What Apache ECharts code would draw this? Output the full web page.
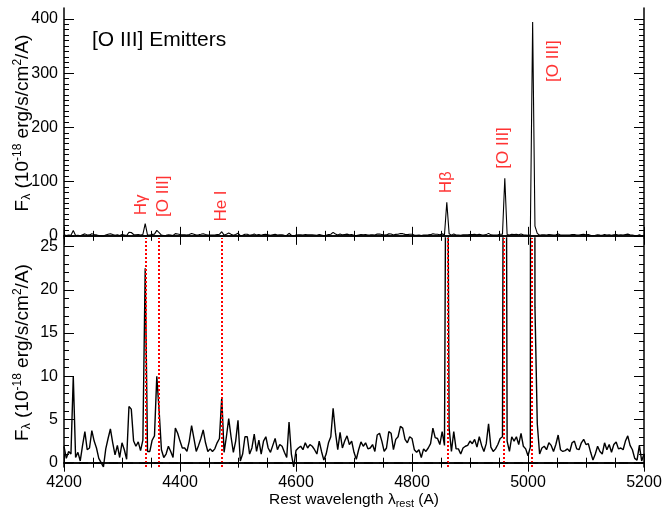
<!DOCTYPE html>
<html>
<head>
<meta charset="utf-8">
<script src="https://cdn.jsdelivr.net/npm/echarts@6/dist/echarts.min.js"></script>
<style>
  html, body { margin: 0; padding: 0; background: #fff; }
  #chart { width: 662px; height: 508px; }
</style>
</head>
<body>
<div id="chart"></div>
<script>
// spectrum sampled every 4 A starting at 4200 A (flux in 1e-18 erg/s/cm2/A)
var waveStart = 4200;
var waveStep = 4;
var flux = [
    1.9, 0.5, 1.3, 1.0, 10.0, 0.6, 1.2, 0.2, 2.0, 3.6,
    1.5, 1.7, 3.7, 2.5, 1.7, 0.5, 0.0, -0.5, 1.6, 2.8,
    3.9, 2.3, 0.9, 2.0, 0.6, 2.3, 1.5, 0.4, 6.5, 6.2,
    2.5, 1.9, 2.4, 1.4, 2.6, 22.5, 1.3, 1.3, 2.6, 3.1,
    10.0, 6.0, 1.5, 0.6, 1.0, 1.9, 1.3, 0.6, 4.0, 3.4,
    2.5, 1.7, 1.7, 1.3, 2.5, 4.3, 2.8, 1.3, 2.0, 2.8,
    3.8, 2.3, 1.3, 1.6, 1.3, 1.6, 2.3, 2.8, 7.6, 1.2,
    3.0, 5.1, 3.0, 1.2, 2.5, 4.9, 0.2, 1.0, 3.0, 3.0,
    1.0, 1.7, 3.3, 1.3, 2.6, 1.0, 2.5, 3.0, 1.7, 1.2,
    2.0, 2.8, 1.5, 2.1, 1.9, 1.2, 0.6, 4.7, 1.0, -0.5,
    1.4, 1.7, 1.9, 1.5, 2.3, 1.7, 2.1, 1.9, 1.5, 1.0,
    2.5, 1.3, 0.3, 1.0, 2.3, 3.0, 6.3, 3.5, 1.5, 3.5,
    1.7, 2.5, 3.1, 2.1, 2.5, 1.2, 0.4, 1.5, 2.4, 1.9,
    2.3, 1.6, 1.7, 2.1, 1.3, 3.2, 3.4, 2.5, 1.3, 1.7,
    3.6, 3.4, 1.5, 2.7, 3.0, 4.2, 4.0, 2.7, 2.3, 3.0,
    2.8, 1.5, 1.2, 1.5, 0.6, 1.6, 1.3, 1.7, 2.2, 4.0,
    2.9, 2.8, 2.1, 3.6, 2.0, 62, 4.0, 1.3, 3.6, 1.6,
    1.6, 1.0, 1.7, 1.9, 2.0, 2.5, 2.2, 2.7, 1.8, 3.0,
    2.0, 1.3, 2.2, 4.5, 1.8, 1.3, 1.6, 2.1, 2.8, 3.0,
    106, 2.5, 1.3, 3.0, 2.5, 3.0, 2.1, 3.4, 1.9, 1.6,
    0.8, 1.8, 394, 18, 4.5, 1.0, 1.7, 1.9, 1.5, 2.3,
    2.0, 1.3, 2.1, 3.2, 1.5, 1.3, 1.4, 1.6, 1.3, 2.3,
    2.5, 1.6, 1.5, 2.3, 2.7, 2.1, 2.2, 1.2, 0.3, 1.0,
    1.9, 1.3, 1.0, 2.3, 1.5, 2.1, 1.2, 2.1, 2.4, 1.6,
    1.7, 1.5, 2.5, 3.1, 2.0, 1.5, 0.5, 0.3, 2.0, 0.2,
    1.0
];

// emission lines
var lineNames = ['Hγ', '[O III]', 'He I', 'Hβ', '[O III]', '[O III]'];
var lineWaves = [4340.5, 4363.2, 4471.5, 4861.3, 4958.9, 5006.8];
// where each label sits in the top panel (wavelength, flux)
var labelAt = [[4334, 57], [4371, 73], [4471, 55], [4860, 99], [4957, 162], [5043, 322]];

var xTicks = [4200, 4400, 4600, 4800, 5000, 5200];
var topYTicks = [0, 100, 200, 300, 400];
var bottomYTicks = [0, 5, 10, 15, 20, 25];

var FONT = 'Liberation Sans, Arial, Helvetica, sans-serif';

function steps(from, to, step) {
    var out = [];
    for (var v = from; v <= to + 1e-9; v += step) out.push(Math.round(v * 100) / 100);
    return out;
}
function plain(v) { return String(v); }

var spectrum = flux.map(function (f, i) { return [waveStart + i * waveStep, f]; });

var grids = [], xAxes = [], yAxes = [];
var nameRich = {
    sub: { fontSize: 11, fontFamily: FONT, color: '#000', padding: [8, 0, 0, 0] },
    sup: { fontSize: 11, fontFamily: FONT, color: '#000', padding: [0, 0, 9, 0] }
};

// each panel = a major-tick grid (frame + labels) and a minor-tick grid on the same rect
function addPanel(rect, yMin, yMax, yMajor, yMinorStep, xLabels) {
    [true, false].forEach(function (major) {
        var gi = grids.length;
        grids.push({ left: rect.left, top: rect.top, width: rect.width, height: rect.height, outerBoundsMode: 'none', containLabel: false });
        ['bottom', 'top'].forEach(function (pos) {
            var ax = {
                gridIndex: gi, type: 'value', position: pos, min: 4200, max: 5200,
                axisLine: { show: major, lineStyle: { color: '#000', width: 1.5 } },
                axisTick: {
                    show: true, inside: true, length: major ? 9 : 5,
                    customValues: major ? xTicks : steps(4200, 5200, 50),
                    lineStyle: { color: '#000', width: 1 }
                },
                axisLabel: {
                    show: major && pos === 'bottom' && xLabels, customValues: xTicks, formatter: plain,
                    color: '#000', fontSize: 16, fontFamily: FONT, margin: 8
                },
                splitLine: { show: false }
            };
            if (major && pos === 'bottom' && xLabels) {
                ax.name = 'Rest wavelength λ{sub|rest} (A)';
                ax.nameLocation = 'middle';
                ax.nameGap = 22;
                ax.nameTextStyle = { fontSize: 15.5, fontFamily: FONT, color: '#000', rich: nameRich };
            }
            xAxes.push(ax);
        });
        ['left', 'right'].forEach(function (pos) {
            var ay = {
                gridIndex: gi, type: 'value', position: pos, min: yMin, max: yMax,
                axisLine: { show: major, lineStyle: { color: '#000', width: 1.5 } },
                axisTick: {
                    show: true, inside: true, length: major ? 10 : 5,
                    customValues: major ? yMajor : steps(yMajor[0], yMajor[yMajor.length - 1], yMinorStep),
                    lineStyle: { color: '#000', width: 1 }
                },
                axisLabel: {
                    show: major && pos === 'left', customValues: yMajor, formatter: plain,
                    color: '#000', fontSize: 16, fontFamily: FONT, margin: 6
                },
                splitLine: { show: false }
            };
            if (major && pos === 'left') {
                ay.name = 'F{sub|λ} (10{sup|-18} erg/s/cm{sup|2}/A)';
                ay.nameLocation = 'middle';
                ay.nameGap = 30;
                ay.nameMoveOverlap = false;
                ay.nameTextStyle = {
                    fontSize: 19, fontFamily: FONT, color: '#000',
                    rich: {
                        sub: { fontSize: 12, fontFamily: FONT, color: '#000', padding: [8, 0, 0, 0] },
                        sup: { fontSize: 12, fontFamily: FONT, color: '#000', padding: [0, 0, 10, 0] }
                    }
                };
            }
            yAxes.push(ay);
        });
    });
}

addPanel({ left: 64, top: 8, width: 580, height: 230 }, -4, 420, topYTicks, 10, false);
addPanel({ left: 64, top: 238, width: 580, height: 229 }, -0.5, 26, bottomYTicks, 1, true);

var markData = lineWaves.map(function (w) {
    return { xAxis: w, lineStyle: { color: '#ff0000', type: [2, 2], width: 2 } };
});
markData.push({ yAxis: 0, lineStyle: { color: '#000', type: [9, 6], width: 1.5 } });

var chart = echarts.init(document.getElementById('chart'));
chart.setOption({
    animation: false,
    backgroundColor: '#fff',
    title: {
        text: '[O III] Emitters', left: 92, top: 30, padding: 0,
        textStyle: { fontSize: 21, fontWeight: 'normal', color: '#000', fontFamily: FONT }
    },
    grid: grids,
    xAxis: xAxes,
    yAxis: yAxes,
    series: [
        {
            type: 'line', xAxisIndex: 0, yAxisIndex: 0, data: spectrum,
            symbol: 'none', lineStyle: { color: '#000', width: 1.1 }
        },
        {
            type: 'scatter', xAxisIndex: 0, yAxisIndex: 0,
            data: labelAt.map(function (p, i) { return { name: lineNames[i], value: p }; }),
            symbolSize: 1, itemStyle: { color: 'rgba(0,0,0,0)' },
            label: {
                show: true, position: 'inside', rotate: 90, formatter: '{b}',
                color: '#ff0000', fontSize: 17, fontFamily: FONT
            }
        },
        {
            type: 'line', xAxisIndex: 4, yAxisIndex: 4, data: spectrum,
            symbol: 'none', lineStyle: { color: '#000', width: 1.4 },
            markLine: { silent: true, symbol: 'none', label: { show: false }, data: markData }
        }
    ]
});
</script>
</body>
</html>
